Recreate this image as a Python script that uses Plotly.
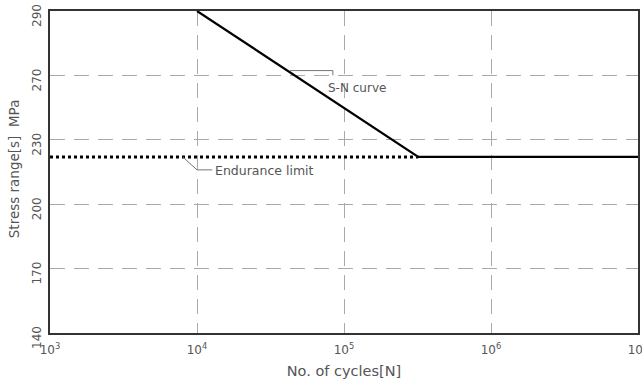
import numpy as np
import plotly.graph_objects as go

# Axis tick definitions (y axis uses equally spaced, non-linear labels)
y_tick_values = [140, 170, 200, 230, 270, 290]
x_tick_exponents = [3, 4, 5, 6, 7]

# S-N curve data
sn_cycles = [1e4, 3.2e5, 1e7]
sn_stress = [290, 222, 222]

# Endurance limit (dotted)
endurance_cycles = [1e3, 3.2e5]
endurance_stress = [222, 222]

# Leader lines for labels
sn_leader_cycles = [4.3e4, 8.4e4, 8.4e4]
sn_leader_stress = [271.5, 271.5, 270]
end_leader_cycles = [8.0e3, 1.0e4, 1.27e4]
end_leader_stress = [222, 216, 216]

positions = list(range(len(y_tick_values)))


def ypos(v):
    return np.interp(v, y_tick_values, positions)


fig = go.Figure()
fig.add_trace(go.Scatter(x=endurance_cycles, y=ypos(endurance_stress), mode="lines",
                         line=dict(color="black", width=3, dash="dot"), showlegend=False))
fig.add_trace(go.Scatter(x=sn_cycles, y=ypos(sn_stress), mode="lines",
                         line=dict(color="black", width=2.2), showlegend=False))
fig.add_trace(go.Scatter(x=sn_leader_cycles, y=ypos(sn_leader_stress), mode="lines",
                         line=dict(color="#777", width=1), showlegend=False))
fig.add_trace(go.Scatter(x=end_leader_cycles, y=ypos(end_leader_stress), mode="lines",
                         line=dict(color="#777", width=1), showlegend=False))

font_family = "DejaVu Sans"
txt = "#555"

fig.add_annotation(x=np.log10(7.6e4), y=float(ypos(262)), text="S-N curve", showarrow=False,
                   xanchor="left", yanchor="middle", font=dict(family=font_family, size=12, color=txt))
fig.add_annotation(x=np.log10(1.28e4), y=float(ypos(216)), text="Endurance limit", showarrow=False,
                   xanchor="left", yanchor="middle", yshift=-1,
                   font=dict(family=font_family, size=12.5, color=txt))
fig.add_annotation(x=-0.061, y=0.509, xref="paper", yref="paper", text="Stress range[s]  MPa",
                   textangle=-90, showarrow=False, xanchor="center", yanchor="middle",
                   font=dict(family=font_family, size=13.5, color=txt))

# y tick labels (rotated, slightly below their gridlines as in the original)
for p, v in zip(positions, y_tick_values):
    fig.add_annotation(x=-0.0221, xref="paper", y=p, yref="y", text=str(v), textangle=-90,
                       showarrow=False, xanchor="center", yanchor="middle", yshift=-5,
                       font=dict(family=font_family, size=12, color=txt))

fig.update_xaxes(type="log", range=[3, 7],
                 tickvals=[10 ** e for e in x_tick_exponents],
                 ticktext=[f"10<sup>{e}</sup>" for e in x_tick_exponents],
                 showgrid=True, gridcolor="#aaa", gridwidth=1, griddash="15px,9px",
                 showline=True, linecolor="#333", linewidth=1.5, mirror=True,
                 ticks="", ticklabelstandoff=5, ticklabeloverflow="allow", automargin=False,
                 tickfont=dict(family=font_family, size=12, color=txt),
                 title=dict(text="No. of cycles[N]", font=dict(family=font_family, size=14.5, color=txt), standoff=10),
                 zeroline=False)
fig.update_yaxes(range=[0, len(y_tick_values) - 1], tickvals=positions,
                 showticklabels=False,
                 showgrid=True, gridcolor="#aaa", gridwidth=1, griddash="15px,9px",
                 showline=True, linecolor="#333", linewidth=1.5, mirror=True,
                 ticks="", automargin=False,
                 zeroline=False)

fig.update_layout(width=642, height=387, margin=dict(l=50, r=4, t=11, b=54),
                  plot_bgcolor="white", paper_bgcolor="white")
fig.write_html("out.html")
